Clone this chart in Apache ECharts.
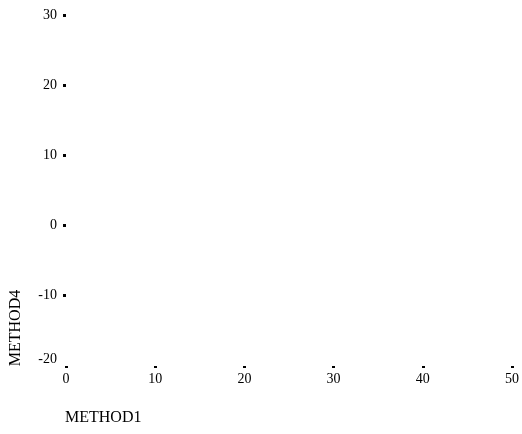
<!DOCTYPE html>
<html>
<head>
<meta charset="utf-8">
<script src="https://cdn.jsdelivr.net/npm/echarts@6/dist/echarts.min.js"></script>
<style>
  html, body { margin: 0; padding: 0; background: #fff; }
  #chart { width: 522px; height: 434px; }
</style>
</head>
<body>
<div id="chart"></div>
<script>
// no points are drawn in the reference, both series are empty
const method1 = [];
const method4 = [];
const xTicks = [0, 10, 20, 30, 40, 50];
const yTicks = [-20, -10, 0, 10, 20, 30];

const points = method1.map((x, i) => [x, method4[i]]);
const font = 'Liberation Serif, Times New Roman, serif';

const myChart = echarts.init(document.getElementById('chart'));

const option = {
  animation: false,
  grid: { left: 66, right: 9, top: 15, bottom: 69 },
  xAxis: {
    type: 'value',
    min: xTicks[0],
    max: xTicks[xTicks.length - 1],
    interval: 10,
    offset: 1,
    axisLine: { show: false, onZero: false },
    axisTick: { show: true, length: 2, lineStyle: { width: 3, color: '#000' } },
    splitLine: { show: false },
    axisLabel: { margin: 6, color: '#000', fontFamily: font, fontSize: 14 }
  },
  yAxis: {
    type: 'value',
    min: yTicks[0],
    max: yTicks[yTicks.length - 1],
    interval: 10,
    axisLine: { show: false, onZero: false },
    // the bottom tick is not drawn in the reference
    axisTick: {
      show: true, length: 3, customValues: yTicks.slice(1),
      lineStyle: { width: 3, color: '#000' }
    },
    splitLine: { show: false },
    axisLabel: {
      margin: 9, color: '#000', fontFamily: font, fontSize: 14,
      formatter: v => (v === yTicks[0] ? '{low|' + v + '}' : String(v)),
      rich: { low: { fontFamily: font, fontSize: 14, padding: [0, 0, 12, 0] } }
    }
  },
  graphic: [
    {
      type: 'text',
      left: 65,
      top: 410,
      style: { text: 'METHOD1', fill: '#000', font: '16px ' + font }
    },
    {
      type: 'text',
      x: 16,
      y: 328,
      rotation: Math.PI / 2,
      style: {
        text: 'METHOD4', fill: '#000', font: '16px ' + font,
        align: 'center', verticalAlign: 'middle'
      }
    }
  ],
  series: [
    {
      type: 'scatter',
      symbolSize: 6,
      itemStyle: { color: '#000' },
      data: points
    }
  ]
};

myChart.setOption(option);
</script>
</body>
</html>
